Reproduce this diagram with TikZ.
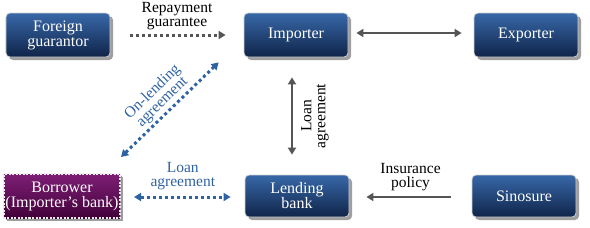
\documentclass[tikz,border=0pt]{standalone}
\usepackage{fontspec}
\setmainfont{Liberation Serif}
\usetikzlibrary{arrows.meta,calc,shadows}
\definecolor{boxtop}{HTML}{3868A8}
\definecolor{boxbot}{HTML}{0F2449}
\definecolor{purtop}{HTML}{7E1F76}
\definecolor{purbot}{HTML}{420039}
\definecolor{link}{HTML}{2F62A3}
\definecolor{grey}{HTML}{555555}
\tikzset{
  party/.style={rounded corners=4bp,top color=boxtop,bottom color=boxbot,draw=gray!35,line width=0.8bp,
    text=white,align=center,minimum width=104bp,minimum height=44bp,inner sep=0pt,
    font=\fontsize{16bp}{15bp}\selectfont,
    drop shadow={shadow xshift=3bp,shadow yshift=-3bp,fill=gray!75,opacity=1}},
  borrowerbox/.style={party,rounded corners=0pt,top color=purtop,bottom color=purbot,draw=white!85!gray,
    line width=2bp,dash pattern=on 2bp off 1.5bp,minimum width=116bp,
    drop shadow={shadow xshift=2bp,shadow yshift=-2bp,fill=gray!80,opacity=1}},
  tip/.style={-{Triangle[length=7bp,width=8bp]}},
  bothtips/.style={{Triangle[length=7bp,width=8bp]}-{Triangle[length=7bp,width=8bp]}},
  greyline/.style={draw=grey,line width=2.5bp},
  dots/.style={line width=3bp,dash pattern=on 3bp off 3bp},
  lbl/.style={align=center,inner sep=1bp}
}
\begin{document}
\begin{tikzpicture}[x=1bp,y=-1bp,font=\fontsize{15.5bp}{14bp}\selectfont]
\useasboundingbox (0,0) rectangle (590,227);
% parties
\node[party] (guarantor) at (58,35) {Foreign\\guarantor};
\node[party] (importer) at (296,35) {Importer};
\node[party] (exporter) at (526,35) {Exporter};
\node[borrowerbox] (borrower) at (62,196) {Borrower\\(Importer’s bank)};
\node[party,minimum height=42bp] (lender) at (297,196) {Lending\\bank};
\node[party,minimum height=42bp] (sinosure) at (524,196) {Sinosure};
% links
\draw[greyline,dots,tip,shorten <=20bp,shorten >=18bp] (guarantor) -- (importer)
  node[lbl,midway,above=3bp] {Repayment\\guarantee};
\draw[greyline,bothtips,shorten <=8bp,shorten >=12bp] ($(importer.east)+(0,-2)$) -- ($(exporter.west)+(0,-2)$);
\draw[greyline,bothtips,shorten <=20bp,shorten >=20bp] ($(importer.south)+(-4,0)$) -- ($(lender.north)+(-5,0)$)
  node[lbl,midway,right=7bp,rotate=90,anchor=north] {Loan\\agreement};
\draw[greyline,tip,shorten <=21bp,shorten >=17bp] ($(sinosure.west)+(0,1)$) -- ($(lender.east)+(0,1)$)
  node[lbl,midway,above=4bp] {Insurance\\policy};
\draw[link,dots,bothtips,shorten <=13bp,shorten >=14bp] ($(borrower.east)+(0,1)$) -- ($(lender.west)+(0,1)$)
  node[lbl,midway,above=5bp,text=link] {Loan\\agreement};
\draw[link,dots,bothtips] ($(borrower.north east)+(0,-16)$) -- ($(importer.south west)+(-25,5)$)
  node[lbl,midway,sloped,above=1bp,text=link] {On-lending\\agreement};
\end{tikzpicture}
\end{document}
